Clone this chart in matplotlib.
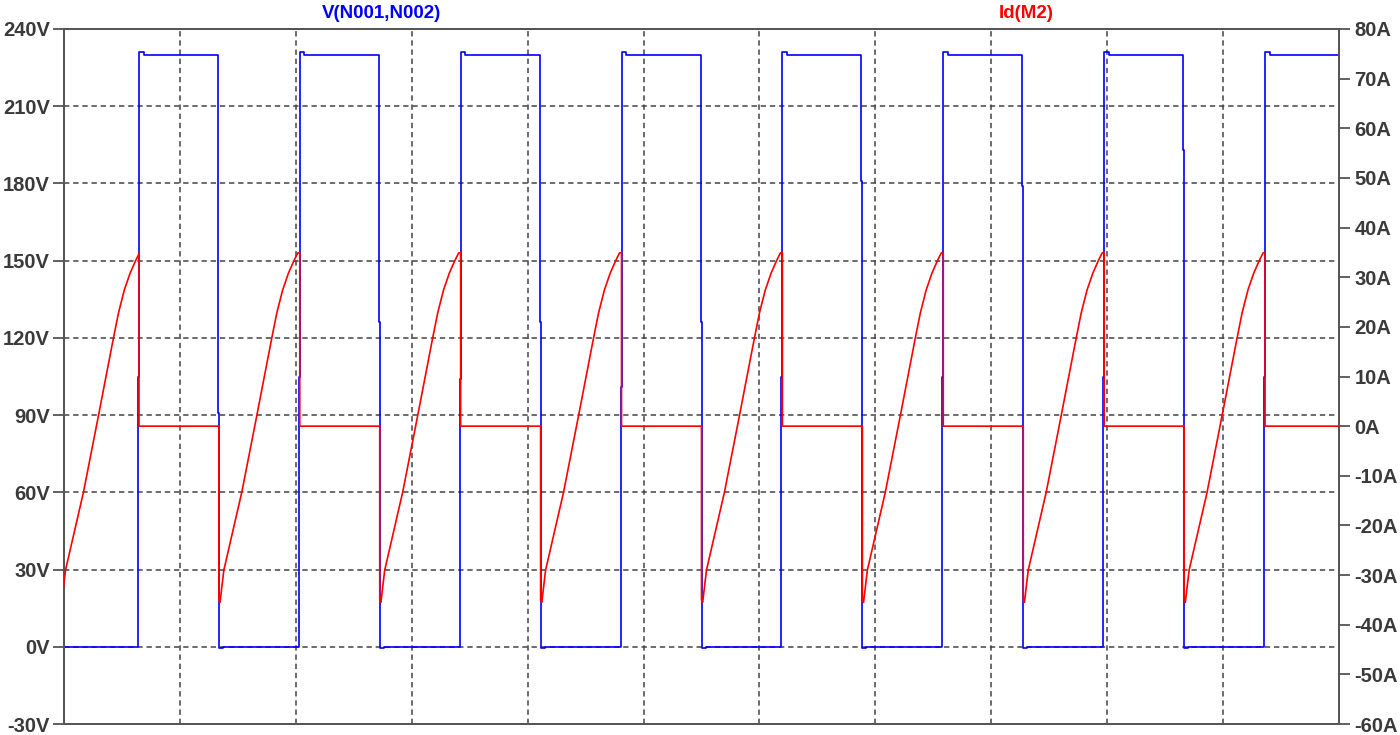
import matplotlib
matplotlib.use("Agg")
import matplotlib.pyplot as plt
import numpy as np

# time axis in us, 11 divisions of 10 us (x tick labels are cut off in the source)
t_end = 110.0
x_grid = [10, 20, 30, 40, 50, 60, 70, 80, 90, 100]

# V(N001,N002) switching edges
rise_t = [6.47, 20.34, 34.22, 48.10, 61.98, 75.86, 89.74, 103.62]
fall_t = [13.36, 27.24, 41.12, 55.00, 68.88, 82.76, 96.64]
rise_kink_v = [105, 105, 104, 101, 105, 105, 105, 105]
fall_kink_v = [91, 126, 126, 126, 181, 179, 193]
v_high = 230.0
v_overshoot = 231.0
v_undershoot = -0.5

# Id(M2) ramp shape, relative to the start of each ramp
ramp_dt = [0.0, 0.10, 0.43, 1.98, 3.28, 4.57, 5.0, 5.5, 6.0, 6.47, 6.81]
ramp_i = [-35.0, -35.5, -29.0, -13.3, 2.2, 17.8, 22.8, 27.4, 30.8, 33.3, 34.9]
ramp_start = [-0.30, 13.36, 27.24, 41.12, 55.00, 68.88, 82.76, 96.64]

v_ticks = [-30, 0, 30, 60, 90, 120, 150, 180, 210, 240]
a_ticks = [-60, -50, -40, -30, -20, -10, 0, 10, 20, 30, 40, 50, 60, 70, 80]


def build_voltage():
    t, v = [0.0], [0.0]
    for i, tr in enumerate(rise_t):
        t += [tr - 0.08, tr - 0.08, tr, tr, tr + 0.4, tr + 0.4]
        v += [0, rise_kink_v[i], rise_kink_v[i], v_overshoot, v_overshoot, v_high]
        if i < len(fall_t):
            tf = fall_t[i]
            t += [tf - 0.08, tf - 0.08, tf, tf, tf + 0.35, tf + 0.35]
            v += [v_high, fall_kink_v[i], fall_kink_v[i], v_undershoot, v_undershoot, 0]
    t.append(t_end)
    v.append(v_high)
    return np.array(t), np.array(v)


def build_current():
    t, i_d = [], []
    for k, ts in enumerate(ramp_start):
        t += [ts]
        i_d += [0.0]
        t += [ts + d for d in ramp_dt]
        i_d += list(ramp_i)
        tr = rise_t[k]
        t += [tr, tr]
        i_d += [ramp_i[-1], 0.0]
    t.append(t_end)
    i_d.append(0.0)
    return np.array(t), np.array(i_d)


def main():
    plt.rcParams['font.family'] = ['Liberation Sans', 'DejaVu Sans']
    fig = plt.figure(figsize=(14, 7.35), dpi=100)
    ax = fig.add_axes([64 / 1400, 11 / 735, 1275 / 1400, 695 / 735])
    ax2 = ax.twinx()

    tv, vv = build_voltage()
    ti, ii = build_current()

    ax.plot(tv, vv, color="#0000ff", lw=1.2, zorder=3)
    ax2.plot(ti, ii, color="#ff0000", lw=1.2, zorder=3)

    ax.set_xlim(0, t_end)
    ax.set_ylim(-30, 240)
    ax2.set_ylim(-60, 80)

    ax.set_yticks(v_ticks)
    ax.set_yticklabels([f"{v}V" for v in v_ticks])
    ax2.set_yticks(a_ticks)
    ax2.set_yticklabels([f"{a}A" for a in a_ticks])
    ax.set_xticks(x_grid)
    ax.tick_params(axis="x", length=0, labelbottom=False)

    dash = (0, (3.5, 2.5))
    for y in v_ticks[1:-1]:
        ax.axhline(y, color="#444444", lw=1.1, linestyle=dash, zorder=1)
    for x in x_grid:
        ax.axvline(x, color="#444444", lw=1.1, linestyle=dash, zorder=1)

    for a in (ax, ax2):
        for s in a.spines.values():
            s.set_color("#555555")
            s.set_linewidth(1.3)
    ax.tick_params(axis="y", length=8, width=1.3, color="#555555",
                   labelsize=14.5, labelcolor="#3a3a3a", pad=2)
    ax2.tick_params(axis="y", length=8, width=1.3, color="#555555",
                    labelsize=14.5, labelcolor="#3a3a3a", pad=3)
    for lbl in ax.get_yticklabels() + ax2.get_yticklabels():
        lbl.set_fontweight("bold")

    fig.text(381 / 1400, 1 - 13 / 735, "V(N001,N002)", color="#0000ff",
             fontsize=13.5, fontweight="bold", ha="center", va="center")
    fig.text(1026 / 1400, 1 - 13 / 735, "Id(M2)", color="#ff0000",
             fontsize=13.5, fontweight="bold", ha="center", va="center")

    fig.savefig("out.png", dpi=100)
    plt.close(fig)


if __name__ == "__main__":
    main()
